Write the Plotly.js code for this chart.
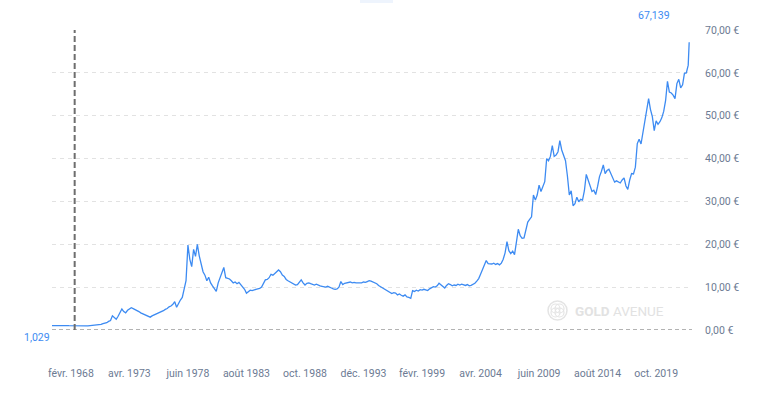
<!DOCTYPE html>
<html>
<head>
<meta charset="utf-8">
<script src="https://cdn.plot.ly/plotly-3.0.1.min.js"></script>
<style>
  html, body { margin: 0; padding: 0; background: #ffffff; }
  #chart { width: 760px; height: 399px; }
</style>
</head>
<body>
<div id="chart"></div>
<script>
// Gold price per gram (EUR), one reading every two months
const startYear = 1966, startMonth = 6; // first reading: June 1966
const values = [
  1.029, 1.05, 1.06, 1.05, 1.03, 1.02,
  1.04, 1.05, 1.03, 1.00, 0.98, 0.96,
  0.93, 0.92, 0.93, 0.94, 0.94, 0.96,
  0.97, 0.98, 1.00, 1.03, 1.06, 1.08,
  1.10, 1.20, 1.30, 1.50, 1.60, 1.70,
  2.00, 2.20, 3.30, 2.80, 2.50, 3.20,
  4.20, 4.90, 4.30, 4.00, 4.60, 5.00,
  5.20, 5.00, 4.80, 4.60, 4.30, 4.00,
  3.80, 3.60, 3.40, 3.10, 3.00, 3.30,
  3.50, 3.60, 3.80, 4.10, 4.30, 4.50,
  4.80, 5.00, 5.40, 5.60, 6.00, 6.60,
  5.30, 6.20, 7.00, 7.60, 9.50, 11.50,
  19.80, 16.50, 14.80, 18.80, 17.20, 20.00,
  17.30, 15.00, 13.60, 12.80, 11.50, 12.30,
  11.00, 10.30, 9.60, 9.00, 11.00, 12.20,
  13.50, 14.60, 12.20, 12.00, 11.90, 11.50,
  11.00, 11.20, 10.80, 11.10, 10.50, 10.00,
  9.50, 8.60, 8.90, 9.30, 9.20, 9.40,
  9.50, 9.60, 9.70, 10.00, 11.00, 11.70,
  11.80, 12.20, 13.00, 12.80, 13.20, 13.50,
  14.00, 13.60, 12.80, 12.50, 11.80, 11.50,
  11.20, 11.00, 10.80, 10.50, 10.60, 11.20,
  11.70, 11.00, 10.50, 10.90, 11.00, 10.80,
  10.60, 10.50, 10.70, 10.40, 10.30, 10.20,
  10.10, 10.00, 10.20, 9.90, 9.80, 9.60,
  9.50, 9.60, 10.00, 11.30, 10.60, 10.90,
  11.00, 11.10, 11.20, 11.00, 11.10, 11.00,
  11.00, 11.10, 11.00, 11.20, 11.10, 11.30,
  11.50, 11.40, 11.20, 11.00, 10.80, 10.40,
  10.10, 9.80, 9.50, 9.20, 8.90, 8.60,
  8.50, 8.70, 8.60, 8.20, 8.40, 8.10,
  7.90, 8.20, 7.70, 7.60, 7.40, 9.20,
  9.00, 9.30, 9.10, 9.40, 9.30, 9.50,
  9.30, 9.20, 9.60, 9.80, 10.10, 10.00,
  10.30, 10.90, 10.60, 10.20, 9.80, 10.40,
  10.80, 10.60, 10.30, 10.50, 10.40, 10.70,
  10.50, 10.70, 10.50, 10.40, 10.60, 10.30,
  10.40, 10.60, 10.90, 11.40, 12.00, 13.00,
  14.00, 15.20, 16.20, 15.50, 15.50, 15.40,
  15.60, 15.30, 15.50, 15.20, 15.60, 16.50,
  18.00, 20.60, 18.50, 17.80, 18.40, 17.60,
  20.50, 23.50, 22.00, 21.40, 21.50, 23.50,
  25.20, 25.80, 26.40, 31.50, 30.30, 31.50,
  33.80, 32.30, 33.50, 34.60, 40.00, 39.50,
  40.50, 43.00, 40.50, 40.80, 41.60, 44.20,
  42.00, 40.80, 39.50, 36.00, 31.50, 32.50,
  29.00, 29.50, 31.00, 29.90, 30.50, 30.30,
  32.50, 36.30, 34.80, 33.50, 32.30, 32.60,
  31.60, 33.50, 35.80, 37.00, 38.50, 36.50,
  37.20, 37.50, 36.50, 35.20, 34.50, 34.80,
  34.60, 34.30, 35.00, 35.50, 33.60, 32.80,
  35.00, 36.50, 36.40, 38.00, 43.50, 44.50,
  43.40, 45.90, 48.50, 51.50, 54.00, 51.50,
  49.80, 46.50, 48.80, 48.00, 48.60, 49.50,
  51.00, 53.50, 58.00, 55.50, 55.30, 54.80,
  54.00, 57.50, 58.50, 56.50, 57.20, 59.90,
  60.00, 61.80
];
const lastDate = '2022-09-01';
const lastValue = 67.139;

const tickDates = ['1968-02-01','1973-04-01','1978-06-01','1983-08-01','1988-10-01',
                   '1993-12-01','1999-02-01','2004-04-01','2009-06-01','2014-08-01','2019-10-01'];
const tickLabels = ['févr. 1968','avr. 1973','juin 1978','août 1983','oct. 1988',
                    'déc. 1993','févr. 1999','avr. 2004','juin 2009','août 2014','oct. 2019'];
const yTicks = [0, 10, 20, 30, 40, 50, 60, 70];
const yLabels = ['0,00 €','10,00 €','20,00 €','30,00 €','40,00 €','50,00 €','60,00 €','70,00 €'];
const crosshairDate = '1968-06-01';

function pad(n) { return (n < 10 ? '0' : '') + n; }
const dates = values.map((v, i) => {
  const m0 = (startMonth - 1) + 2 * i;
  const y = startYear + Math.floor(m0 / 12);
  const m = (m0 % 12) + 1;
  return y + '-' + pad(m) + '-01';
});
dates.push(lastDate);
const ys = values.concat([lastValue]);

const fmt = v => v.toFixed(3).replace('.', ',');
const textCol = '#6c7a93';
const blue = '#3d8bf2';
const P = (px) => (px - 52) / 640;
const Q = (py) => (330 - py) / 300;

const trace = {
  x: dates, y: ys, type: 'scatter', mode: 'lines',
  line: { color: blue, width: 1.3 },
  hoverinfo: 'skip'
};

const layout = {
  width: 760, height: 399,
  margin: { l: 52, r: 68, t: 30, b: 69, pad: 0 },
  paper_bgcolor: '#ffffff', plot_bgcolor: '#ffffff',
  showlegend: false,
  font: { family: 'Roboto, "Open Sans", sans-serif', size: 10.5, color: textCol },
  xaxis: {
    type: 'date',
    range: ['1966-06-01', '2022-12-01'],
    showgrid: false, zeroline: false, showline: false,
    tickmode: 'array', tickvals: tickDates, ticktext: tickLabels,
    ticks: 'outside', ticklen: 33, tickcolor: 'rgba(0,0,0,0)',
    tickfont: { size: 10.5, color: textCol }
  },
  yaxis: {
    side: 'right',
    range: [0, 70],
    showgrid: true, gridcolor: '#e2e2e2', griddash: '4px,4px', gridwidth: 1,
    zeroline: false, showline: false,
    tickmode: 'array', tickvals: yTicks, ticktext: yLabels,
    ticks: 'outside', ticklen: 10, tickcolor: 'rgba(0,0,0,0)',
    tickfont: { size: 10.5, color: textCol }
  },
  shapes: [
    { type: 'line', xref: 'paper', yref: 'y', x0: 0, x1: 1, y0: 0, y1: 0,
      line: { color: '#666666', width: 1, dash: '4px,3px' } },
    { type: 'line', xref: 'x', yref: 'paper', x0: crosshairDate, x1: crosshairDate, y0: 0, y1: 1,
      line: { color: '#6e6e6e', width: 2, dash: '6px,3px' } },
    { type: 'rect', xref: 'paper', yref: 'paper', x0: P(360), x1: P(393), y0: Q(3), y1: Q(0),
      line: { width: 0 }, fillcolor: '#eef4fd' },
    { type: 'circle', xref: 'paper', yref: 'paper', x0: P(548), x1: P(567), y0: Q(320), y1: Q(301),
      line: { color: '#e4e4e4', width: 1.5 } },
    { type: 'circle', xref: 'paper', yref: 'paper', x0: P(551), x1: P(560), y0: Q(313), y1: Q(304),
      line: { color: '#e4e4e4', width: 1.2 } },
    { type: 'circle', xref: 'paper', yref: 'paper', x0: P(555), x1: P(564), y0: Q(313), y1: Q(304),
      line: { color: '#e4e4e4', width: 1.2 } },
    { type: 'circle', xref: 'paper', yref: 'paper', x0: P(551), x1: P(560), y0: Q(317), y1: Q(308),
      line: { color: '#e4e4e4', width: 1.2 } },
    { type: 'circle', xref: 'paper', yref: 'paper', x0: P(555), x1: P(564), y0: Q(317), y1: Q(308),
      line: { color: '#e4e4e4', width: 1.2 } }
  ],
  annotations: [
    { xref: 'paper', yref: 'paper', x: P(37), y: Q(337), xanchor: 'center', yanchor: 'middle',
      text: fmt(ys[0]), showarrow: false, font: { size: 10.5, color: blue } },
    { xref: 'paper', yref: 'paper', x: P(654), y: Q(15.5), xanchor: 'center', yanchor: 'middle',
      text: fmt(ys[ys.length - 1]), showarrow: false, font: { size: 10.5, color: blue } },
    { xref: 'paper', yref: 'paper', x: P(619), y: Q(310.5), xanchor: 'center', yanchor: 'middle',
      text: '<b>GOLD</b> AVENUE', showarrow: false, font: { size: 13.5, color: '#e2e2e2' } }
  ]
};

Plotly.newPlot('chart', [trace], layout, { displayModeBar: false, staticPlot: true });
</script>
</body>
</html>
